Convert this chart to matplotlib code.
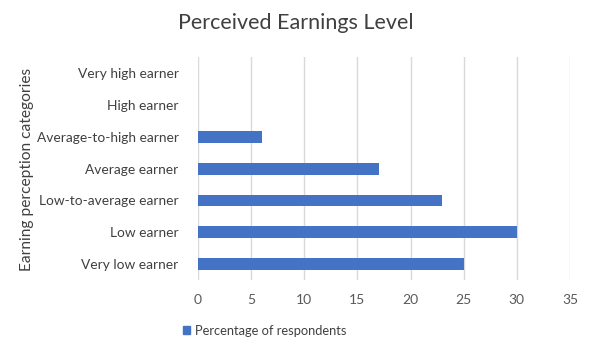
import matplotlib
matplotlib.use("Agg")
import matplotlib.pyplot as plt
from matplotlib.patches import Patch

categories = ["Very low earner", "Low earner", "Low-to-average earner", "Average earner",
              "Average-to-high earner", "High earner", "Very high earner"]
values = [25, 30, 23, 17, 6, 0, 0]
xticks = [0, 5, 10, 15, 20, 25, 30, 35]
series_name = "Percentage of respondents"

plt.rcParams['font.family'] = ['Lato', 'DejaVu Sans']
fig = plt.figure(figsize=(5.91, 3.55), dpi=100)
ax = fig.add_axes([0.335, 0.211, 0.6295, 0.628])

color = "#4472C4"
ax.barh(range(len(categories)), values, height=0.37, color=color, linewidth=0, zorder=3)
ax.set_yticks(range(len(categories)))
ax.set_yticklabels(categories, fontsize=9.9, color="#404040")
ax.set_ylim(-0.5, len(categories) - 0.5)
ax.set_xlim(0, 35)
ax.set_xticks(xticks)
ax.set_xticklabels([str(t) for t in xticks], fontsize=10, color="#595959")
ax.grid(axis='x', color="#d9d9d9", linewidth=1.0, zorder=0)
for s in ax.spines.values():
    s.set_visible(False)
ax.tick_params(axis='x', length=0, pad=10)
ax.tick_params(axis='y', length=0, pad=14)

fig.text(0.5, 0.935, "Perceived Earnings Level", ha='center', va='center', fontsize=15.5, color="#404040")
fig.text(0.045, 0.524, "Earning perception categories", rotation=90, ha='center', va='center',
         fontsize=11.2, color="#404040")

handles = [Patch(facecolor=color, edgecolor=color)]
fig.legend(handles, [series_name], loc='center', bbox_to_anchor=(0.448, 0.068), frameon=False,
           fontsize=9.3, handlelength=0.6, handleheight=0.6, handletextpad=0.4,
           labelcolor="#404040")

fig.savefig("out.png", dpi=100)
